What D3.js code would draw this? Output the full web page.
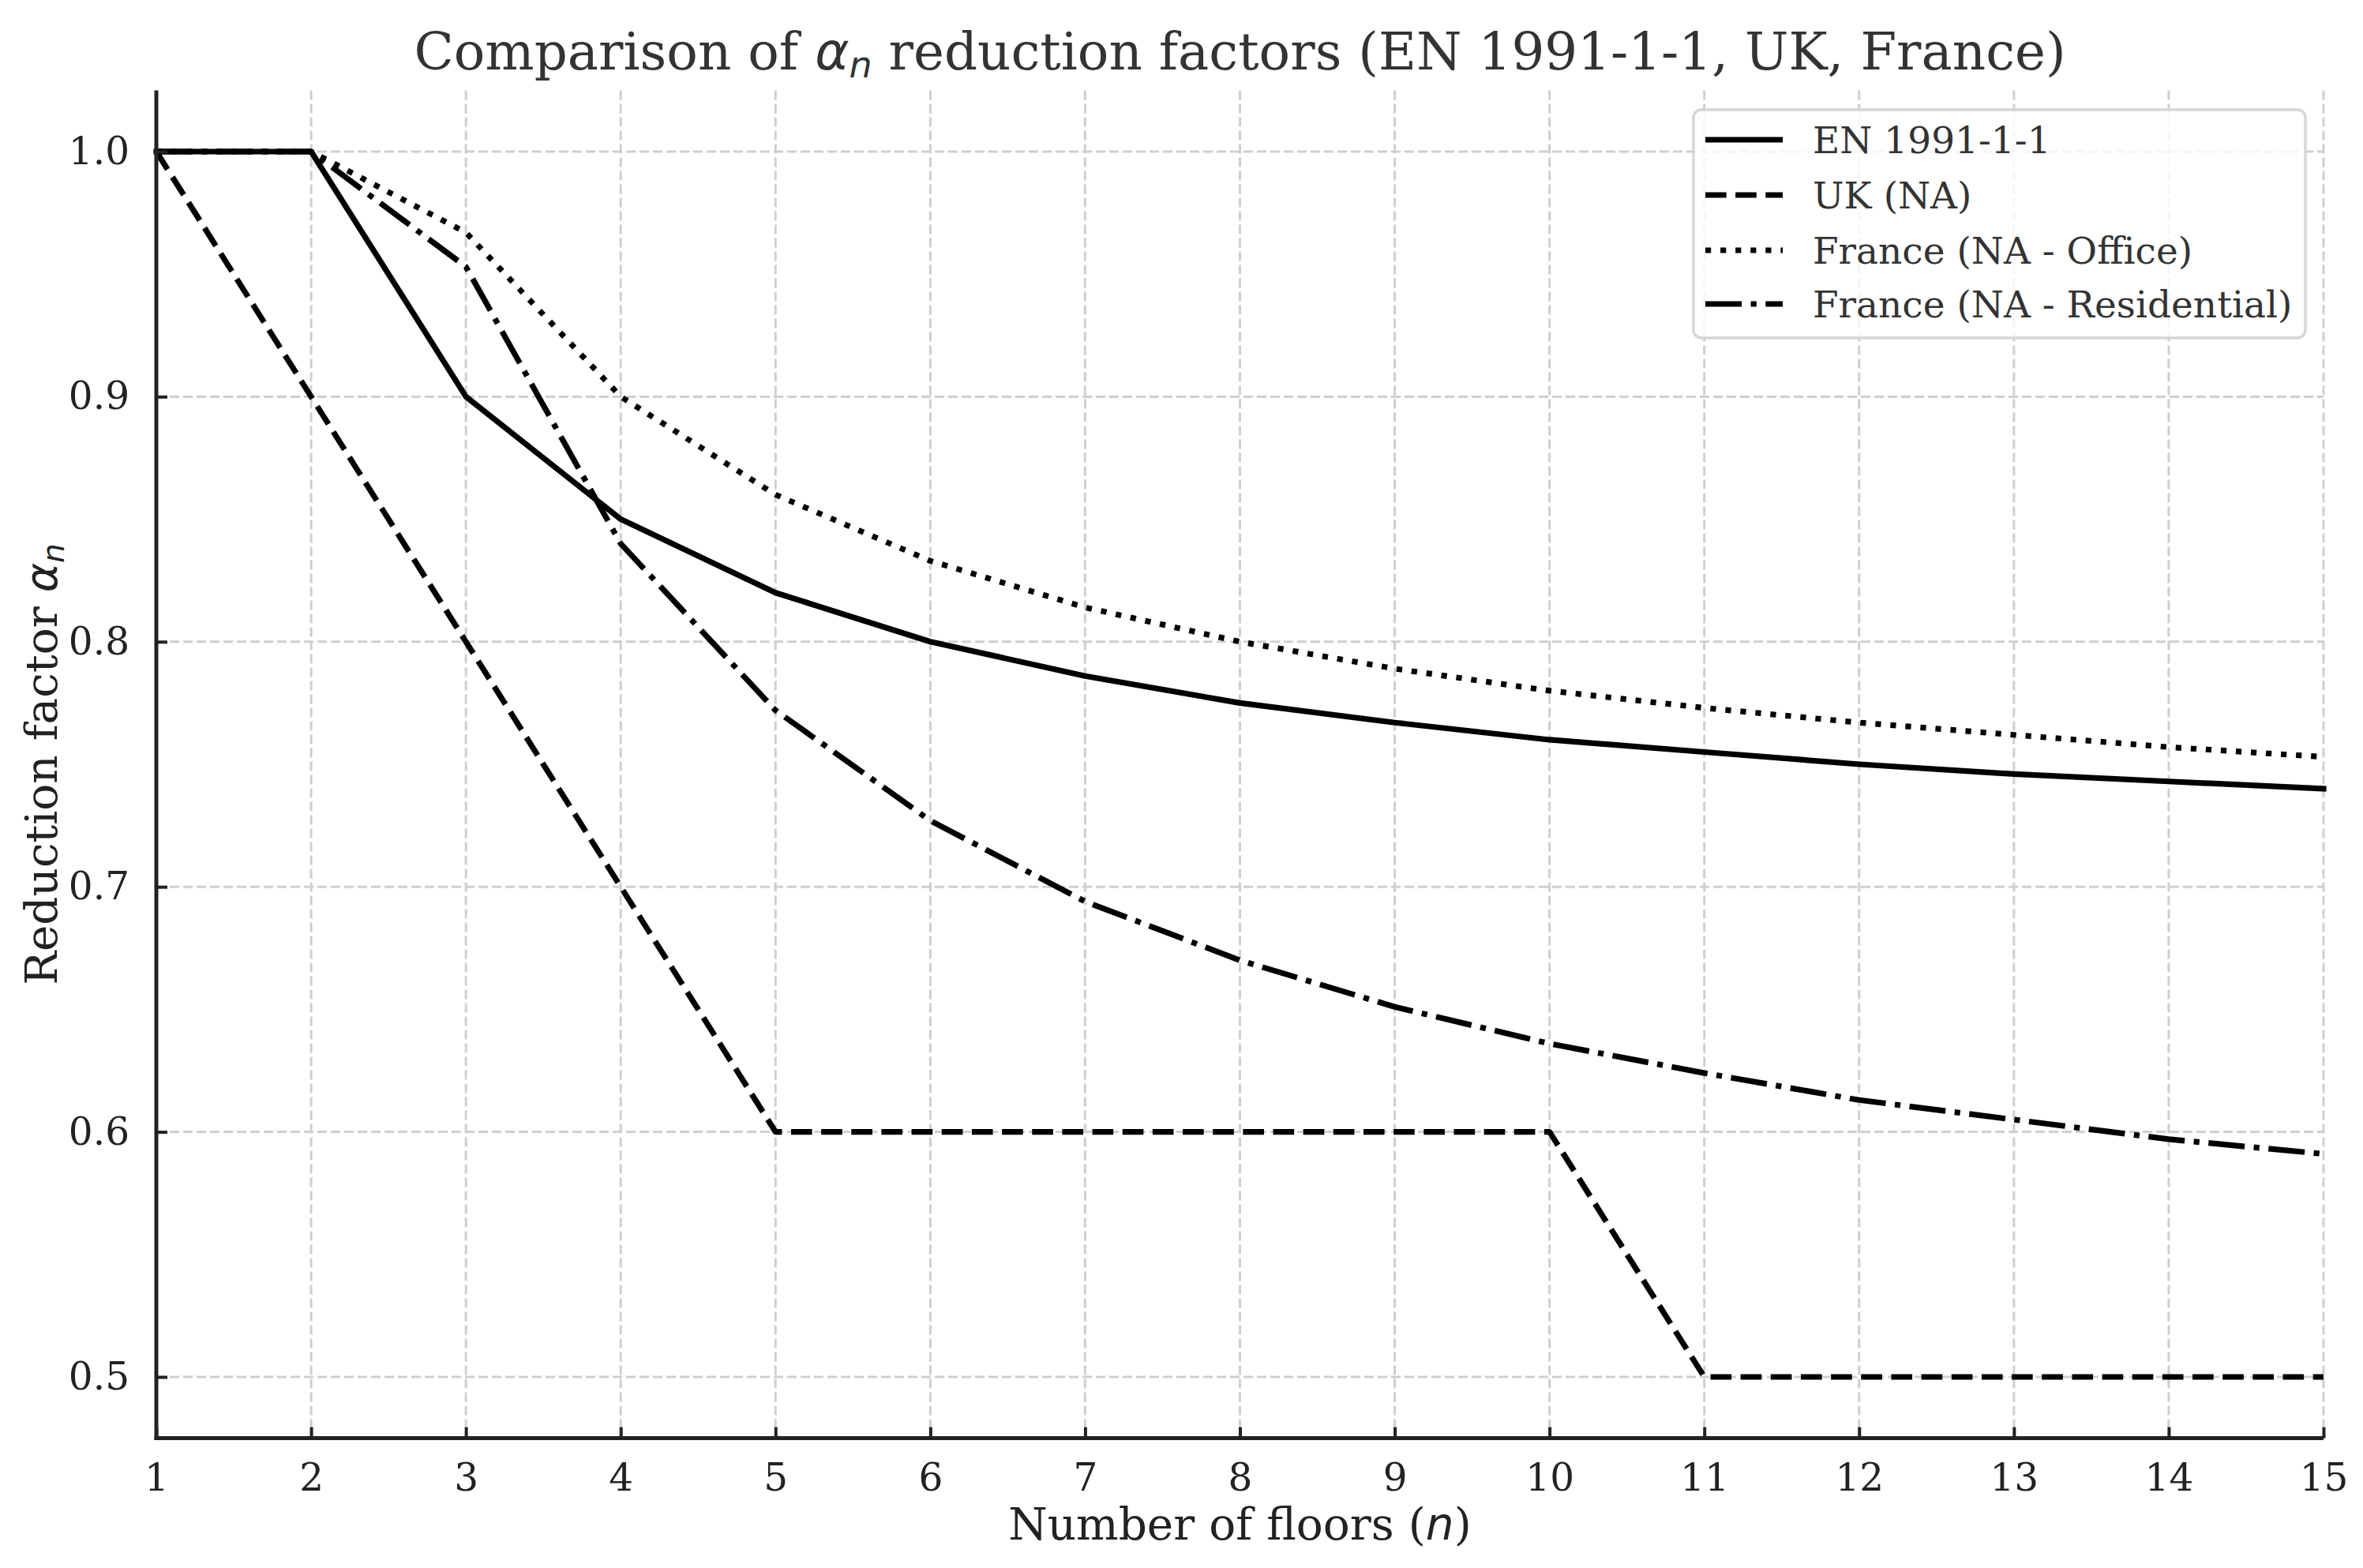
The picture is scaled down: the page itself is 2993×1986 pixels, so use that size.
<!DOCTYPE html>
<html>
<head>
<meta charset="utf-8">
<script src="https://cdn.jsdelivr.net/npm/d3@7/dist/d3.min.js"></script>
<style>
  html, body { margin: 0; padding: 0; background: #ffffff; }
  svg { display: block; }
</style>
</head>
<body>
<script>
// ---------- data ----------
const floors = [1, 2, 3, 4, 5, 6, 7, 8, 9, 10, 11, 12, 13, 14, 15];
const enValues = [1.0, 1.0, 0.9, 0.85, 0.82, 0.8, 0.786, 0.775, 0.767, 0.76, 0.755, 0.75, 0.746, 0.743, 0.74];
const ukValues = [1.0, 0.9, 0.8, 0.7, 0.6, 0.6, 0.6, 0.6, 0.6, 0.6, 0.5, 0.5, 0.5, 0.5, 0.5];
const frOfficeValues = [1.0, 1.0, 0.967, 0.9, 0.86, 0.833, 0.814, 0.8, 0.789, 0.78, 0.773, 0.767, 0.762, 0.757, 0.753];
const frResidentialValues = [1.0, 1.0, 0.953, 0.84, 0.772, 0.727, 0.694, 0.67, 0.651, 0.636, 0.624, 0.613, 0.605, 0.597, 0.591];
const seriesNames = ["EN 1991-1-1", "UK (NA)", "France (NA - Office)", "France (NA - Residential)"];
const xTickValues = [1, 2, 3, 4, 5, 6, 7, 8, 9, 10, 11, 12, 13, 14, 15];
const yTickValues = [0.5, 0.6, 0.7, 0.8, 0.9, 1.0];

// ---------- layout ----------
const W = 2993, H = 1986;
const plot = { left: 198, right: 2943, top: 114.4, bottom: 1821.6 };
const LW = 7.2;
const dashPatterns = [
  null,
  [3.7 * LW, 1.6 * LW],
  [1 * LW, 1.65 * LW],
  [6.4 * LW, 1.6 * LW, 1 * LW, 1.6 * LW]
];
const serif = "'DejaVu Serif', serif";
const sans = "'DejaVu Sans', sans-serif";

const svg = d3.select("body").append("svg")
  .attr("width", W).attr("height", H)
  .attr("viewBox", `0 0 ${W} ${H}`);

svg.append("rect").attr("width", W).attr("height", H).attr("fill", "#ffffff");

const x = d3.scaleLinear().domain([1, 15]).range([plot.left, plot.right]);
const y = d3.scaleLinear().domain([0.475, 1.025]).range([plot.bottom, plot.top]);

// ---------- grid ----------
const grid = svg.append("g").attr("class", "grid");
grid.selectAll("line.vx").data(xTickValues).enter().append("line")
  .attr("x1", d => x(d)).attr("x2", d => x(d))
  .attr("y1", plot.top).attr("y2", plot.bottom)
  .attr("stroke", "#cfcfcf").attr("stroke-width", 3)
  .attr("stroke-dasharray", "12,5");
grid.selectAll("line.hy").data(yTickValues).enter().append("line")
  .attr("x1", plot.left).attr("x2", plot.right)
  .attr("y1", d => y(d)).attr("y2", d => y(d))
  .attr("stroke", "#cfcfcf").attr("stroke-width", 3)
  .attr("stroke-dasharray", "12,5");

// ---------- lines ----------
const allSeries = [enValues, ukValues, frOfficeValues, frResidentialValues];
const line = d3.line().x((d, i) => x(floors[i])).y(d => y(d));
const linesG = svg.append("g").attr("class", "lines");
allSeries.forEach((vals, k) => {
  const p = linesG.append("path")
    .datum(vals)
    .attr("d", line)
    .attr("fill", "none")
    .attr("stroke", "#000000")
    .attr("stroke-width", LW)
    .attr("stroke-linejoin", "round")
    .attr("stroke-linecap", k === 0 ? "square" : "butt");
  if (dashPatterns[k]) p.attr("stroke-dasharray", dashPatterns[k].join(","));
});

// ---------- axes ----------
const xAxis = d3.axisBottom(x).tickValues(xTickValues).tickFormat(d3.format("d"))
  .tickSizeInner(-14).tickSizeOuter(0).tickPadding(32);
const yAxis = d3.axisLeft(y).tickValues(yTickValues).tickFormat(d3.format(".1f"))
  .tickSizeInner(-14).tickSizeOuter(0).tickPadding(34);

const gx = svg.append("g").attr("transform", `translate(0,${plot.bottom})`).call(xAxis);
const gy = svg.append("g").attr("transform", `translate(${plot.left},0)`).call(yAxis);

[gx, gy].forEach(g => {
  g.select(".domain").remove();
  g.selectAll(".tick line").attr("stroke", "#222222").attr("stroke-width", 4);
  g.selectAll(".tick text")
    .attr("fill", "#222222")
    .style("font-family", serif)
    .style("font-size", "48.5px");
});
gx.selectAll(".tick text").attr("dy", "0.71em");

// spines (left and bottom only)
svg.append("line")
  .attr("x1", plot.left).attr("x2", plot.left)
  .attr("y1", plot.top).attr("y2", plot.bottom + 2.5)
  .attr("stroke", "#222222").attr("stroke-width", 5);
svg.append("line")
  .attr("x1", plot.left - 2.5).attr("x2", plot.right)
  .attr("y1", plot.bottom).attr("y2", plot.bottom)
  .attr("stroke", "#222222").attr("stroke-width", 5);

// ---------- title & labels ----------
const title = svg.append("text")
  .attr("x", (plot.left + plot.right) / 2).attr("y", 88)
  .attr("text-anchor", "middle")
  .attr("fill", "#333333")
  .style("font-family", serif).style("font-size", "65.8px");
title.append("tspan").text("Comparison of ");
title.append("tspan").text("α").style("font-family", sans).style("font-style", "italic");
title.append("tspan").text("n").style("font-family", sans).style("font-style", "italic")
  .style("font-size", "46px").attr("dy", "10");
title.append("tspan").text(" reduction factors (EN 1991-1-1, UK, France)").attr("dy", "-10");

const xl = svg.append("text")
  .attr("x", (plot.left + plot.right) / 2).attr("y", 1950)
  .attr("text-anchor", "middle")
  .attr("fill", "#222222")
  .style("font-family", serif).style("font-size", "56.5px");
xl.append("tspan").text("Number of floors (");
xl.append("tspan").text("n").style("font-family", sans).style("font-style", "italic");
xl.append("tspan").text(")");

const yl = svg.append("text")
  .attr("transform", `translate(72,${(plot.top + plot.bottom) / 2}) rotate(-90)`)
  .attr("text-anchor", "middle")
  .attr("fill", "#222222")
  .style("font-family", serif).style("font-size", "56.5px");
yl.append("tspan").text("Reduction factor ");
yl.append("tspan").text("α").style("font-family", sans).style("font-style", "italic");
yl.append("tspan").text("n").style("font-family", sans).style("font-style", "italic")
  .style("font-size", "39px").attr("dy", "9");

// ---------- legend ----------
const legend = svg.append("g").attr("class", "legend");
legend.append("rect")
  .attr("x", 2145).attr("y", 139).attr("width", 775).attr("height", 289)
  .attr("rx", 10).attr("ry", 10)
  .attr("fill", "#ffffff").attr("fill-opacity", 0.8)
  .attr("stroke", "#d6d6d6").attr("stroke-width", 3.5);
const rowY = [177, 247, 317, 385];
seriesNames.forEach((name, k) => {
  const hl = legend.append("line")
    .attr("x1", 2160).attr("x2", 2258)
    .attr("y1", rowY[k]).attr("y2", rowY[k])
    .attr("stroke", "#000000").attr("stroke-width", LW)
    .attr("stroke-linecap", "butt");
  if (dashPatterns[k]) hl.attr("stroke-dasharray", dashPatterns[k].join(","));
  legend.append("text")
    .attr("x", 2296).attr("y", rowY[k]).attr("dy", "0.36em")
    .attr("fill", "#333333")
    .style("font-family", serif).style("font-size", "47px")
    .text(name);
});
</script>
</body>
</html>
